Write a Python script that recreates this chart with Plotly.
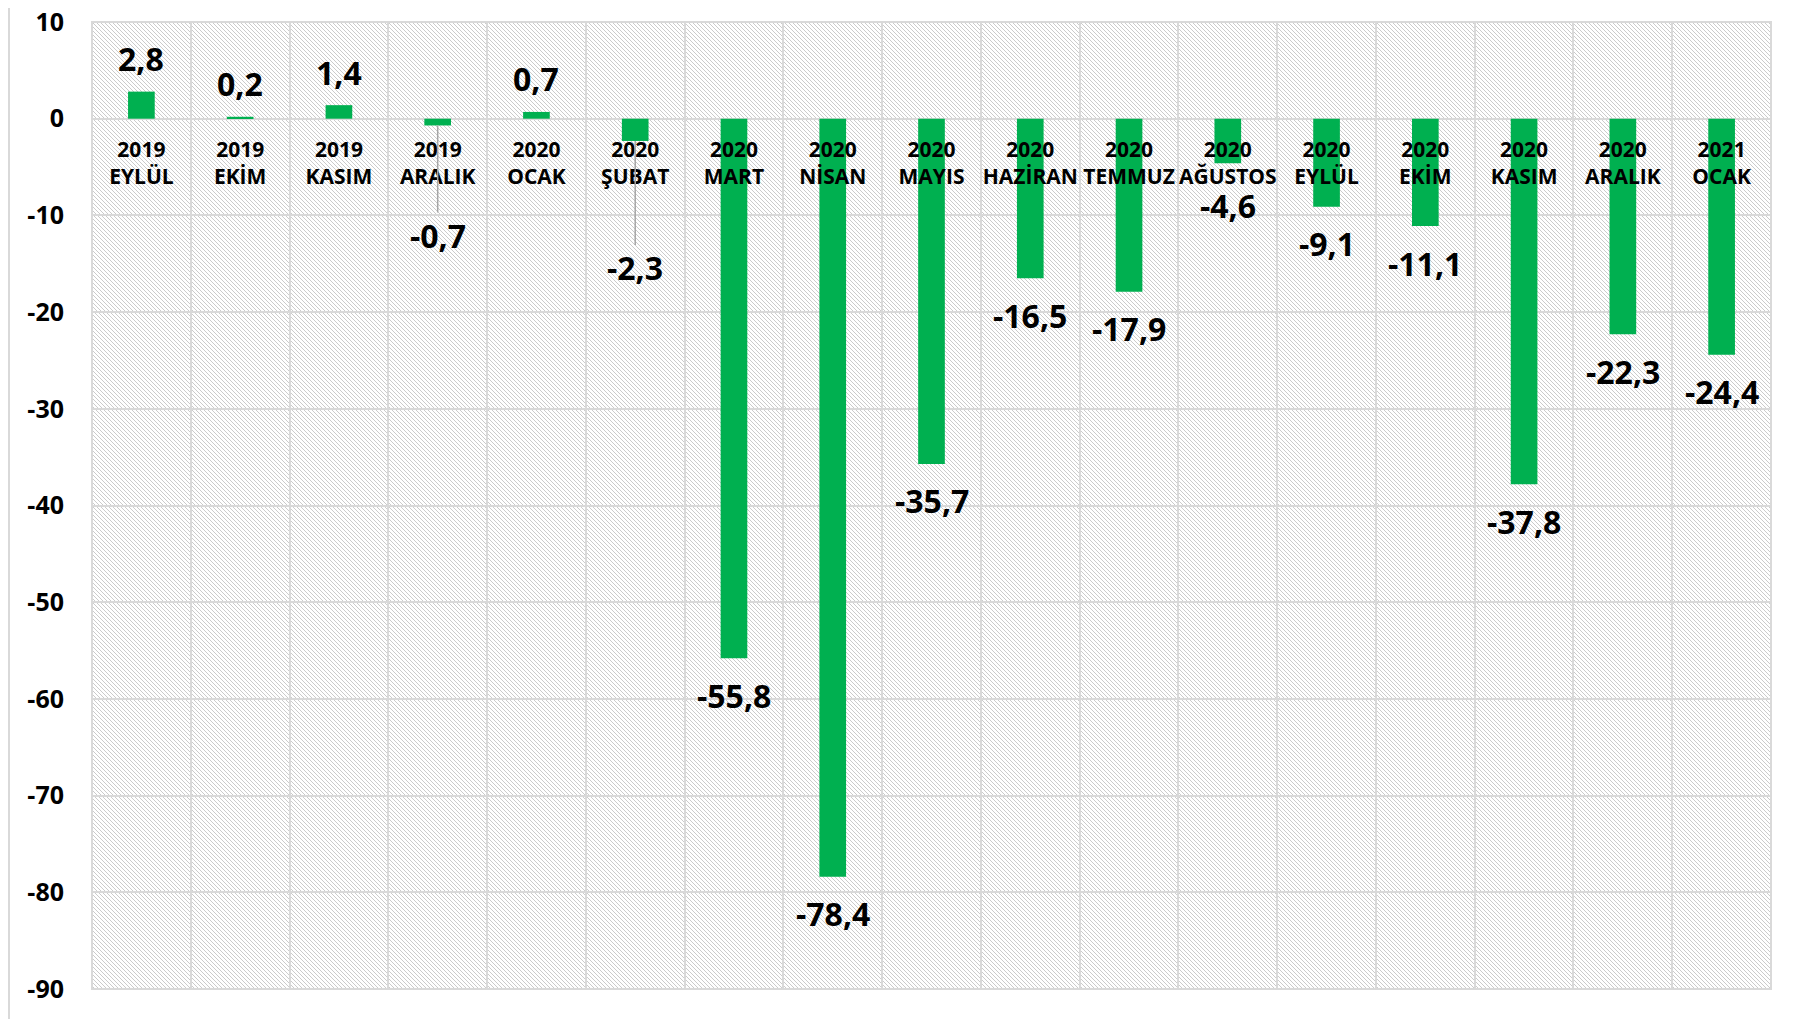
"""
Aylık değişim grafiği (yüzde)
Plotly ile çubuk grafik
"""

import base64
import plotly.graph_objects as go

# veri
years = ["2019", "2019", "2019", "2019", "2020", "2020", "2020", "2020", "2020",
         "2020", "2020", "2020", "2020", "2020", "2020", "2020", "2021"]
months = ["EYLÜL", "EKİM", "KASIM", "ARALIK", "OCAK", "ŞUBAT", "MART", "NİSAN", "MAYIS",
          "HAZİRAN", "TEMMUZ", "AĞUSTOS", "EYLÜL", "EKİM", "KASIM", "ARALIK", "OCAK"]
values = [2.8, 0.2, 1.4, -0.7, 0.7, -2.3, -55.8, -78.4, -35.7,
          -16.5, -17.9, -4.6, -9.1, -11.1, -37.8, -22.3, -24.4]
y_ticks = [10, 0, -10, -20, -30, -40, -50, -60, -70, -80, -90]

categories = [f"{y}<br>{m}" for y, m in zip(years, months)]

W, H = 1804, 1019
M_L, M_R, M_T, M_B = 84, 41, 14, 38
PW, PH = W - M_L - M_R, H - M_T - M_B
Y_MIN, Y_MAX = min(y_ticks), max(y_ticks)

FONT = "Open Sans"
GREEN = "#00B050"
GRID = "#d9d9d9"

# etiketleri aşağı taşınan (kılavuz çizgili) kategoriler: piksel kayması
leader_drop = {3: 110, 5: 127}
# eksen etiketine çok yakın olan etiket için ek kayma
extra_shift = {11: -5}

# taralı arka plan (SVG desen)
hatch_svg = (
    f"<svg xmlns='http://www.w3.org/2000/svg' width='{PW}' height='{PH}'>"
    "<defs><pattern id='h' width='4' height='4' patternUnits='userSpaceOnUse'>"
    "<path d='M0,0 L4,4 M-1,3 L1,5 M3,-1 L5,1' stroke='#cbcbcb' stroke-width='1'/>"
    "</pattern></defs><rect width='100%' height='100%' fill='url(#h)'/></svg>"
)
hatch_src = "data:image/svg+xml;base64," + base64.b64encode(hatch_svg.encode()).decode()

fig = go.Figure()
fig.add_trace(go.Bar(
    x=categories,
    y=values,
    marker=dict(color=GREEN, line=dict(width=0)),
    width=0.27,
    hoverinfo="x+y",
))

annotations = []
for i, (c, v) in enumerate(zip(categories, values)):
    label = f"{v:.1f}".replace(".", ",")
    if i in leader_drop:
        annotations.append(dict(
            x=c, y=v, text=f"<b>{label}</b>", showarrow=True, arrowhead=0,
            arrowwidth=1.5, arrowcolor="#a6a6a6", ax=0, ay=leader_drop[i],
            font=dict(family=FONT, size=32, color="black"), standoff=0,
        ))
    else:
        annotations.append(dict(
            x=c, y=v, text=f"<b>{label}</b>", showarrow=False,
            yanchor="middle",
            yshift=(33 if v >= 0 else -37) + extra_shift.get(i, 0),
            font=dict(family=FONT, size=32, color="black"),
        ))

fig.update_layout(
    width=W,
    height=H,
    margin=dict(l=M_L, r=M_R, t=M_T, b=M_B),
    paper_bgcolor="white",
    plot_bgcolor="rgba(0,0,0,0)",
    showlegend=False,
    bargap=0.73,
    annotations=annotations,
    images=[dict(
        source=hatch_src, xref="paper", yref="paper", x=0, y=1,
        sizex=1, sizey=1, sizing="stretch", xanchor="left", yanchor="top",
        layer="below",
    )],
    shapes=[
        dict(type="rect", xref="paper", yref="paper", x0=0, x1=1, y0=0, y1=1,
             line=dict(color=GRID, width=2), layer="below"),
        dict(type="line", xref="paper", yref="paper",
             x0=(1 - M_L) / PW, x1=(1 - M_L) / PW, y0=-0.1, y1=1.1,
             line=dict(color=GRID, width=2)),
        dict(type="line", xref="paper", yref="paper",
             x0=(1791 - M_L) / PW, x1=(1791 - M_L) / PW, y0=-0.1, y1=1.1,
             line=dict(color=GRID, width=2)),
    ],
    xaxis=dict(
        type="category",
        tickson="boundaries",
        showgrid=True,
        gridcolor=GRID,
        gridwidth=2,
        ticks="",
        tickangle=0,
        anchor="free",
        position=(0 - Y_MIN) / (Y_MAX - Y_MIN),
        ticklabelstandoff=16,
        tickfont=dict(family=FONT, size=21, color="black", weight="bold"),
        showline=False,
        zeroline=False,
        automargin=False,
    ),
    yaxis=dict(
        range=[Y_MIN, Y_MAX],
        tickvals=y_ticks,
        ticktext=[str(t) for t in y_ticks],
        showgrid=True,
        gridcolor=GRID,
        gridwidth=2,
        zeroline=True,
        zerolinecolor=GRID,
        zerolinewidth=2,
        ticks="",
        ticklabelstandoff=27,
        ticklabeloverflow="allow",
        tickfont=dict(family=FONT, size=25, color="black", weight="bold"),
        showline=False,
        automargin=False,
    ),
)

fig.write_html("out.html")
